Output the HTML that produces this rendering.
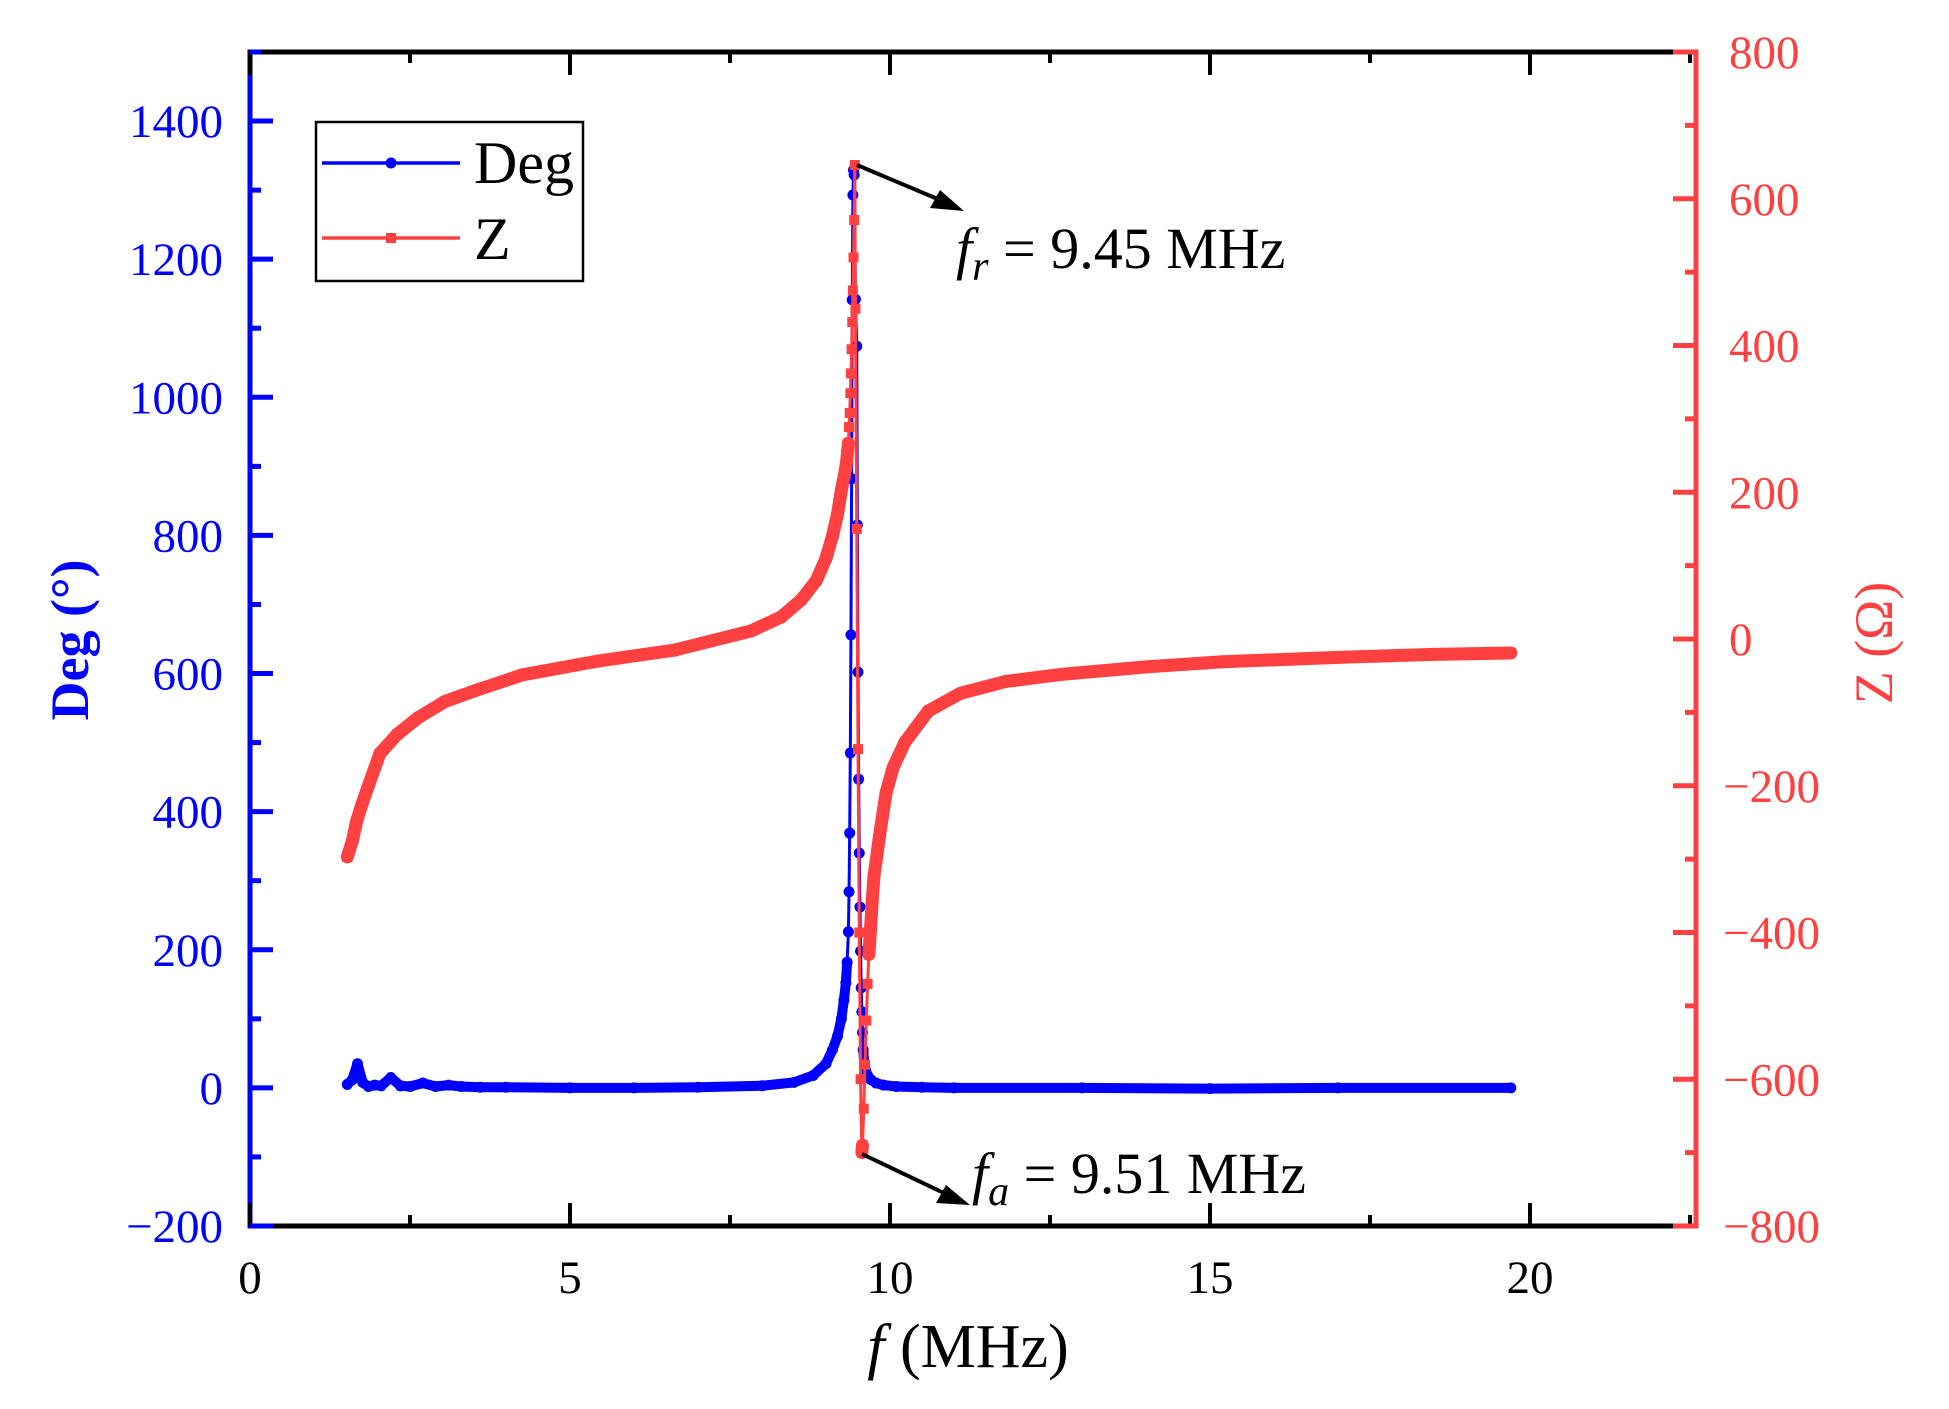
<!DOCTYPE html>
<html><head><meta charset="utf-8"><style>
html,body{margin:0;padding:0;background:#fff;}
svg{display:block;font-family:"Liberation Serif","DejaVu Serif",serif;}
</style></head><body>
<svg id="chart" width="1949" height="1409" viewBox="0 0 1949 1409" xmlns="http://www.w3.org/2000/svg">
<rect x="0" y="0" width="1949" height="1409" fill="#fff"/>
<g id="series"></g>
<g id="axes"></g>
<g id="legend">
  <rect x="316" y="122" width="267" height="159" fill="#fff" stroke="#000" stroke-width="2.5"/>
  <g>
    <line x1="322" y1="163" x2="460" y2="163" stroke="#0000ff" stroke-width="3.5"/>
    <circle cx="391" cy="163" r="5.5" fill="#0000ff"/>
    <text x="474" y="183" font-size="60" fill="#000">Deg</text>
  </g>
  <g>
    <line x1="322" y1="238" x2="460" y2="238" stroke="#ff4040" stroke-width="3.5"/>
    <rect x="386" y="233" width="10" height="10" fill="#ff4040"/>
    <text x="474" y="259" font-size="60" fill="#000">Z</text>
  </g>
</g>
<g>
  <line x1="857" y1="165" x2="940" y2="200" stroke="#000" stroke-width="4"/>
  <polygon points="964,211 930,208 940,190" fill="#000"/>
  <text x="956" y="268" font-size="58" fill="#000"><tspan font-style="italic">f</tspan><tspan font-style="italic" font-size="42" dy="12">r</tspan><tspan dy="-12"> = 9.45 MHz</tspan></text>
</g>
<g>
  <line x1="862" y1="1154" x2="946" y2="1194" stroke="#000" stroke-width="4"/>
  <polygon points="970,1205 936,1203 946,1185" fill="#000"/>
  <text x="972" y="1193" font-size="58" fill="#000"><tspan font-style="italic">f</tspan><tspan font-style="italic" font-size="42" dy="12">a</tspan><tspan dy="-12"> = 9.51 MHz</tspan></text>
</g>
<text x="968" y="1367" font-size="62" text-anchor="middle" fill="#000"><tspan font-style="italic">f</tspan> (MHz)</text>
<text transform="translate(88,640) rotate(-90)" font-size="54" font-weight="bold" text-anchor="middle" fill="#0000ff">Deg (°)</text>
<text transform="translate(1892,643) rotate(-90)" font-size="54" text-anchor="middle" fill="#ff4040">Z (Ω)</text>
</svg>
<script>
const freqDeg = [1.52,1.6,1.68,1.76,1.85,1.95,2.05,2.2,2.35,2.5,2.7,2.9,3.1,3.3,3.6,4,5,6,7,8,8.5,8.8,9.0,9.1,9.18,9.24,9.28,9.31,9.33,9.35,9.36,9.37,9.38,9.39,9.40,9.41,9.42,9.43,9.44,9.46,9.48,9.49,9.50,9.51,9.52,9.53,9.54,9.55,9.56,9.57,9.58,9.60,9.62,9.65,9.7,9.78,9.9,10.1,10.5,11,13,15,17,19.7];
const degValues = [5,12,35,8,2,4,3,15,3,2,7,2,4,2,1,1,0,0,1,3,8,18,35,55,75,100,127,152,182,226,284,369,485,656,882,1141,1293,1329,1322,1142,1074,815,602,447,340,262,198,145,110,80,55,35,25,18,12,7,4,2,1,0,0,-1,0,0];
const freqZ = [1.52,1.6,1.67,1.75,1.85,2.03,2.3,2.63,3.05,3.53,4.25,5.44,6.64,7.83,8.3,8.61,8.85,9.0,9.1,9.18,9.24,9.28,9.31,9.33,9.35,9.36,9.37,9.38,9.39,9.40,9.41,9.42,9.43,9.44,9.45,9.46,9.48,9.50,9.52,9.54,9.56,9.57,9.59,9.61,9.63,9.65,9.67,9.70,9.72,9.75,9.85,9.94,10.05,10.23,10.6,11.1,11.8,12.7,14,15.2,17,18.5,19.7];
const zValues = [-297,-275,-247,-225,-200,-156,-130,-107,-85,-70,-49,-30,-15,11,30,53,80,110,140,170,203,220,234,248,267,289,308,335,362,395,432,475,520,571,646,450,150,-150,-400,-600,-700,-690,-640,-580,-520,-470,-430,-390,-360,-323,-260,-209,-175,-141,-98,-74,-58,-48,-38,-31,-25,-21,-19];
const xTicks = [0,5,10,15,20];
const yLeftTicks = [-200,0,200,400,600,800,1000,1200,1400];
const yRightTicks = [-800,-600,-400,-200,0,200,400,600,800];

const NS = "http://www.w3.org/2000/svg";
const L=250, R=1696, T=52, B=1226;
const xMin=0, xMax=(R-L)/64;
const yLMin=-200, yLMax=1500, yRMin=-800, yRMax=800;
const xs = v => L + (v-xMin)/(xMax-xMin)*(R-L);
const yl = v => B - (v-yLMin)/(yLMax-yLMin)*(B-T);
const yr = v => B - (v-yRMin)/(yRMax-yRMin)*(B-T);

function mk(tag, attrs, parent){
  const e=document.createElementNS(NS,tag);
  for(const k in attrs) e.setAttribute(k,attrs[k]);
  parent.appendChild(e); return e;
}
const series=document.getElementById('series');
const axes=document.getElementById('axes');

function drawSeries(fx, fy, ymap, color, band, name, marker){
  const g=mk('g',{},series);
  
  
  const pts=fx.map((f,i)=>[xs(f), ymap(fy[i])]);
  for(let i=0;i<pts.length-1;i++){
    const [x1,y1]=pts[i],[x2,y2]=pts[i+1];
    const slope=Math.abs(y2-y1)/Math.max(Math.abs(x2-x1),0.01);
    const dense=slope<18;
    mk('line',{x1,y1,x2,y2,stroke:color,'stroke-width':dense?band:3,'stroke-linecap':dense?'round':'butt'},g);
  }
  pts.forEach(([x,y])=>{
    let m;
    if(marker==='circle') m=mk('circle',{cx:x,cy:y,r:5.5,fill:color},g);
    else m=mk('rect',{x:x-5,y:y-5,width:10,height:10,fill:color},g);
    
    
  });
}
drawSeries(freqDeg, degValues, yl, '#0000ff', 10, 'deg-series', 'circle');
drawSeries(freqZ, zValues, yr, '#ff4040', 13, 'z-series', 'square');

mk('line',{x1:L-2.5,y1:T,x2:R+2.5,y2:T,stroke:'#000','stroke-width':5},axes);
mk('line',{x1:L-2.5,y1:B,x2:R+2.5,y2:B,stroke:'#000','stroke-width':5},axes);
mk('line',{x1:L,y1:T-2.5,x2:L,y2:75,stroke:'#000','stroke-width':5},axes);
const la=mk('line',{x1:L,y1:75,x2:L,y2:B+2.5,stroke:'#0000ff','stroke-width':5},axes);


mk('line',{x1:L,y1:B,x2:273,y2:B,stroke:'#0000ff','stroke-width':5},axes);
const ra=mk('line',{x1:R,y1:T-2.5,x2:R,y2:B+2.5,stroke:'#ff4040','stroke-width':5},axes);


mk('line',{x1:1673,y1:T,x2:R,y2:T,stroke:'#ff4040','stroke-width':5},axes);
mk('line',{x1:1673,y1:B,x2:R,y2:B,stroke:'#ff4040','stroke-width':5},axes);

for(let v=0; v<=xMax; v+=2.5){
  const major = v%5===0, len= major?23:11, x=xs(v);
  mk('line',{x1:x,y1:B,x2:x,y2:B-len,stroke:'#000','stroke-width':4},axes);
  mk('line',{x1:x,y1:T,x2:x,y2:T+len,stroke:'#000','stroke-width':4},axes);
}
xTicks.forEach(v=>{
  const t=mk('text',{x:xs(v),y:1293,'font-size':47,'text-anchor':'middle',fill:'#000'},axes);
  t.textContent=String(v);
  
  
});
for(let v=-200; v<=1500; v+=100){
  const major=v%200===0, len=major?23:11, y=yl(v);
  mk('line',{x1:L,y1:y,x2:L+len,y2:y,stroke:'#0000ff','stroke-width':5},axes);
}
yLeftTicks.forEach(v=>{
  const t=mk('text',{x:223,y:yl(v)+16,'font-size':47,'text-anchor':'end',fill:'#0000ff'},axes);
  t.textContent=String(v).replace('-','\u2212');
  
  
});
for(let v=-800; v<=800; v+=100){
  const major=v%200===0, len=major?23:11, y=yr(v);
  mk('line',{x1:R,y1:y,x2:R-len,y2:y,stroke:'#ff4040','stroke-width':5},axes);
}
yRightTicks.forEach(v=>{
  const t=mk('text',{x:v<0?1723:1729,y:yr(v)+16,'font-size':47,'text-anchor':'start',fill:'#ff4040'},axes);
  t.textContent=String(v).replace('-','\u2212');
  
  
});
</script>
</body></html>
